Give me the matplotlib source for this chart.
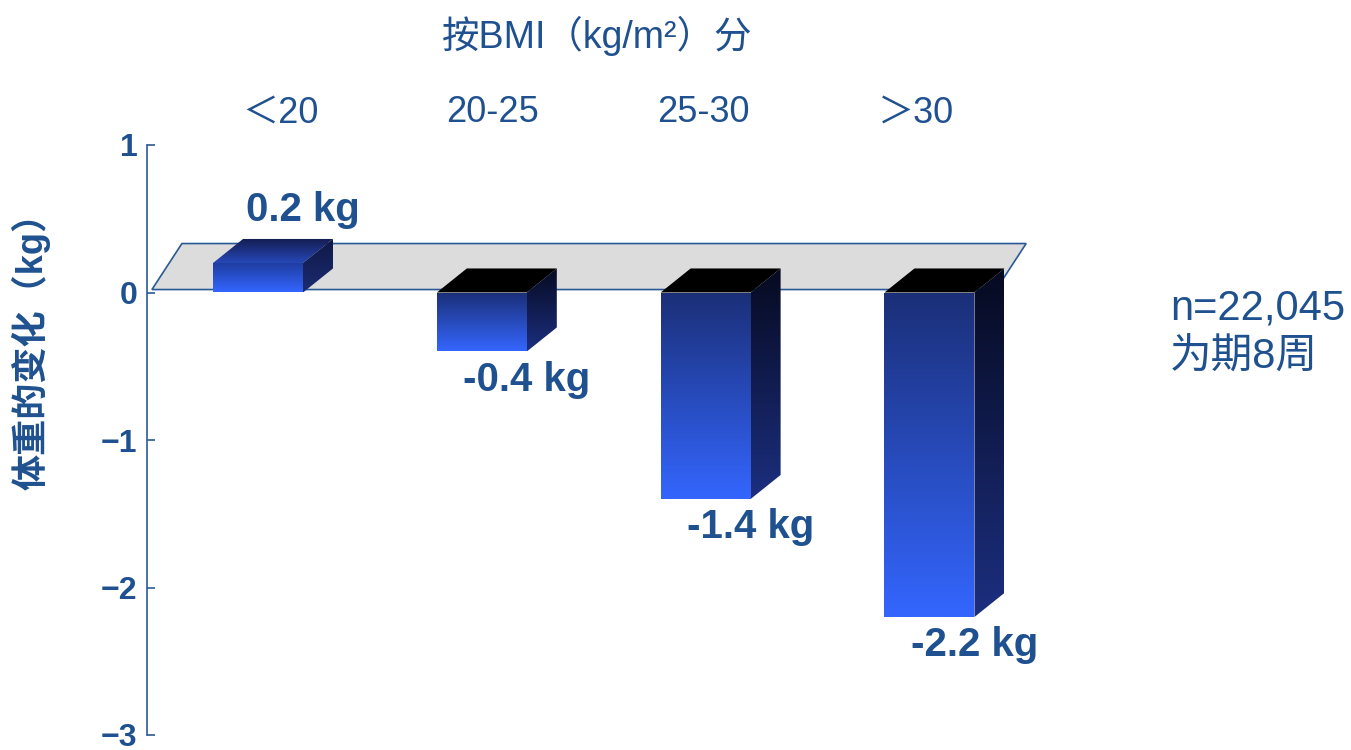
import numpy as np
import matplotlib
matplotlib.use("Agg")
import matplotlib.pyplot as plt
from matplotlib.patches import Polygon
from matplotlib.colors import LinearSegmentedColormap
from matplotlib.transforms import blended_transform_factory

# ---- data ----
categories = ["＜20", "20-25", "25-30", "＞30"]
weight_change = [0.2, -0.4, -1.4, -2.2]
y_ticks = [1, 0, -1, -2, -3]
title_text = "按BMI（kg/m²）分"
ylabel_text = "体重的变化（kg）"
note_lines = ["n=22,045", "为期8周"]

TXT = "#1f5190"
AXC = "#2a5a96"
LATIN_CJK = ["Liberation Sans", "Noto Sans CJK SC", "DejaVu Sans"]
plt.rcParams["font.family"] = LATIN_CJK

W, H = 1351, 750
fig = plt.figure(figsize=(W / 100, H / 100), dpi=100)
ax = fig.add_axes([147 / W, 15 / H, (1100 - 147) / W, (735 - 145) / H])
XL, XR = -0.496, 3.762
YL, YR = -3, 1

bar_w = 0.402
ddx, ddy = 0.134, 0.163


def grad_poly(pts, c_top, c_bot, z):
    pts = np.asarray(pts, dtype=float)
    poly = Polygon(pts, closed=True, facecolor="none", edgecolor="none", zorder=z)
    ax.add_patch(poly)
    cmap = LinearSegmentedColormap.from_list("g", [c_bot, c_top])
    g = np.linspace(0, 1, 256).reshape(-1, 1)
    im = ax.imshow(g, cmap=cmap, origin="lower", aspect="auto",
                   extent=[pts[:, 0].min(), pts[:, 0].max(),
                           pts[:, 1].min(), pts[:, 1].max()],
                   zorder=z, interpolation="bilinear")
    im.set_clip_path(poly)
    return im


# floor plane at zero
floor = Polygon([(-0.474, 0.02), (-0.340, 0.332), (3.432, 0.332), (3.298, 0.02)],
                closed=True, facecolor="#dcdcdc", edgecolor=AXC, lw=1.2, zorder=1)
ax.add_patch(floor)

for i, v in enumerate(weight_change):
    x0, x1 = i - bar_w / 2, i + bar_w / 2
    ytop, ybot = max(0.0, v), min(0.0, v)
    front = [(x0, ybot), (x1, ybot), (x1, ytop), (x0, ytop)]
    side = [(x1, ybot), (x1, ytop), (x1 + ddx, ytop + ddy), (x1 + ddx, ybot + ddy)]
    top = [(x0, ytop), (x1, ytop), (x1 + ddx, ytop + ddy), (x0 + ddx, ytop + ddy)]
    if v >= 0:
        grad_poly(top, "#141c50", "#2648b8", 3)
        grad_poly(side, "#0f1845", "#1b2c72", 3)
        grad_poly(front, "#1f3c9e", "#3366ff", 4)
    else:
        ax.add_patch(Polygon(top, closed=True, facecolor="#000000",
                             edgecolor="none", zorder=3))
        grad_poly(side, "#060a20", "#1c2f80", 3)
        grad_poly(front, "#1b2f77", "#3466fe", 4)

    # value label above (positive) or below (negative) the bar
    ly = v + 0.36 if v >= 0 else v - 0.19
    ax.text(i + 0.2, ly, f"{v:.1f} kg", ha="center", va="center",
            fontsize=29, fontweight="bold", color=TXT, zorder=6)

ax.set_xlim(XL, XR)
ax.set_ylim(YL, YR)

# axes styling
for s in ["top", "right", "bottom"]:
    ax.spines[s].set_visible(False)
ax.spines["left"].set_color(AXC)
ax.spines["left"].set_linewidth(1.2)
ax.set_xticks([])
ax.set_yticks(y_ticks)
ax.set_yticklabels([f"{t}".replace("-", "\u2212") for t in y_ticks],
                   fontsize=23, fontweight="bold", color=TXT)
ax.tick_params(axis="y", direction="in", length=6, width=1.2, color=AXC, pad=7)
ax.patch.set_alpha(0)

# category labels along the top
tr = blended_transform_factory(ax.transData, fig.transFigure)
for i, c in enumerate(categories):
    ax.text(0.1 + i * 0.946, 1 - 113 / H, c, transform=tr, ha="center",
            va="center", fontsize=26, color=TXT)

fig.text(597 / W, 1 - 36 / H, title_text, ha="center", va="center",
         fontsize=27, color=TXT)
fig.text(31 / W, 1 - 342 / H, ylabel_text, ha="center", va="center",
         rotation=90, fontsize=26, fontweight="bold", color=TXT)
for k, line in enumerate(note_lines):
    fig.text(1170 / W, 1 - (308 + 50 * k) / H, line, ha="left", va="center",
             fontsize=30, color=TXT)

fig.savefig("out.png", dpi=100)
